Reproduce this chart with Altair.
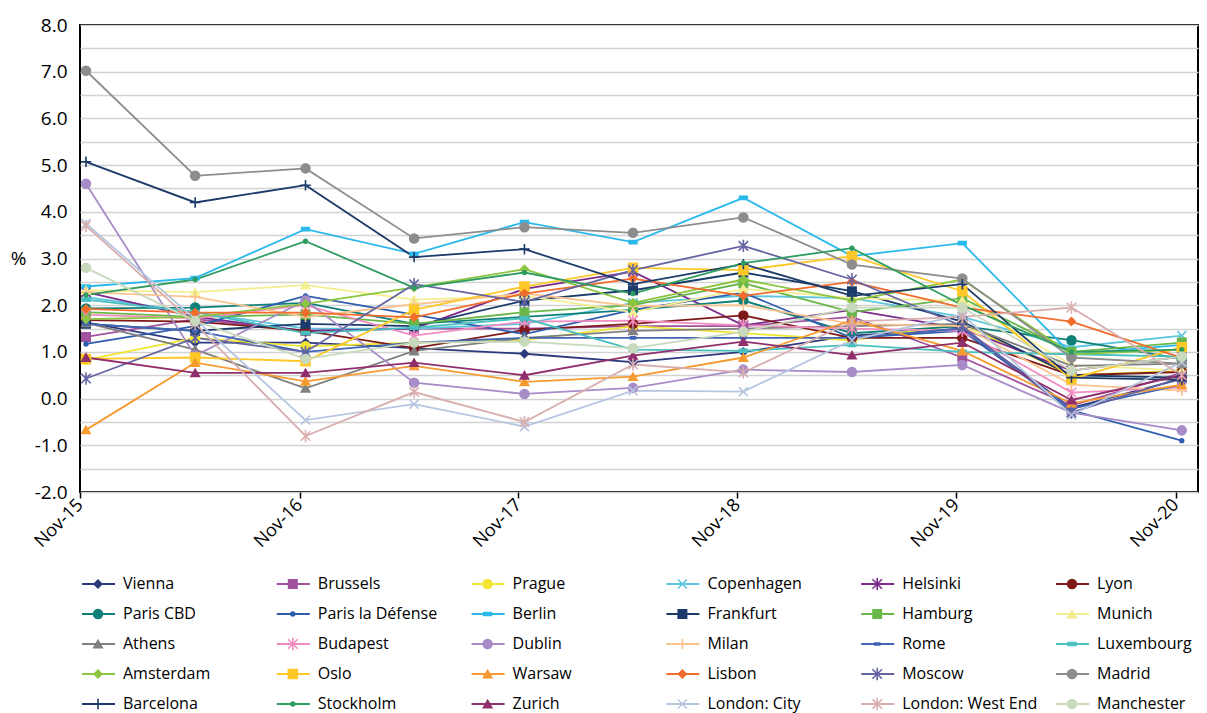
import altair as alt
import pandas as pd

# ---- periods (half-yearly) ----
periods = ["2015-11-11T00:00:00", "2016-05-11T00:00:00", "2016-11-11T00:00:00",
           "2017-05-11T00:00:00", "2017-11-11T00:00:00", "2018-05-11T00:00:00",
           "2018-11-11T00:00:00", "2019-05-11T00:00:00", "2019-11-11T00:00:00",
           "2020-05-11T00:00:00", "2020-11-11T00:00:00"]

# ---- series values (%) ----
vienna = [1.63, 1.20, 1.20, 1.08, 0.96, 0.78, 1.00, 1.35, 1.50, -0.20, 0.42]
brussels = [1.32, 1.70, 1.45, 1.50, 1.50, 1.55, 1.55, 1.75, 0.88, -0.15, 0.55]
prague = [0.83, 1.30, 1.12, 1.20, 1.25, 1.55, 1.40, 1.25, 1.60, 0.50, 0.60]
copenhagen = [2.17, 1.85, 1.50, 1.50, 1.60, 2.05, 2.20, 2.15, 1.75, 1.10, 1.35]
helsinki = [2.28, 1.75, 1.45, 1.50, 2.35, 2.72, 1.57, 1.90, 1.50, 0.60, 0.90]
lyon = [1.68, 1.65, 1.45, 1.08, 1.47, 1.60, 1.78, 1.30, 1.30, 0.50, 0.57]
paris_cbd = [1.93, 1.95, 2.05, 1.60, 1.75, 1.90, 2.10, 1.40, 1.55, 1.25, 0.85]
paris_ld = [1.17, 1.55, 2.20, 1.80, 1.38, 1.90, 2.27, 1.30, 1.45, -0.25, -0.90]
berlin = [2.40, 2.58, 3.63, 3.10, 3.78, 3.35, 4.30, 3.05, 3.33, 0.95, 1.15]
frankfurt = [1.60, 1.45, 1.60, 1.55, 2.10, 2.32, 2.70, 2.30, 1.65, 0.50, 0.45]
hamburg = [1.85, 1.75, 1.80, 1.60, 1.85, 2.00, 2.47, 1.85, 2.15, 1.00, 1.20]
munich = [2.32, 2.28, 2.43, 2.12, 2.20, 1.85, 2.35, 2.15, 2.10, 0.72, 0.60]
athens = [1.62, 1.05, 0.22, 1.02, 1.30, 1.45, 1.50, 1.55, 1.60, 0.70, 0.75]
budapest = [1.80, 1.72, 2.00, 1.35, 1.65, 1.67, 1.57, 1.50, 1.45, 0.13, 0.24]
dublin = [4.60, 0.92, 2.10, 0.34, 0.10, 0.23, 0.62, 0.57, 0.72, -0.30, -0.68]
milan = [2.28, 2.18, 1.75, 2.02, 2.25, 1.98, 2.00, 1.60, 1.55, 0.30, 0.17]
rome = [1.60, 1.45, 1.00, 1.20, 1.30, 1.30, 1.30, 1.30, 1.50, -0.22, 0.30]
luxembourg = [2.12, 1.85, 1.40, 1.52, 1.72, 1.05, 1.02, 1.15, 1.00, 0.95, 0.90]
amsterdam = [1.70, 1.75, 2.03, 2.38, 2.77, 2.05, 2.55, 2.10, 2.55, 0.95, 1.05]
oslo = [0.85, 0.88, 0.80, 1.90, 2.40, 2.80, 2.75, 3.05, 2.30, 0.42, 1.10]
warsaw = [-0.67, 0.77, 0.37, 0.70, 0.36, 0.47, 0.88, 1.68, 1.02, -0.10, 0.30]
lisbon = [1.92, 1.84, 1.84, 1.74, 2.25, 2.57, 2.20, 2.50, 1.95, 1.65, 0.87]
moscow = [0.43, 1.30, 1.00, 2.45, 2.07, 2.75, 3.27, 2.55, 1.55, -0.30, 0.45]
madrid = [7.02, 4.77, 4.93, 3.43, 3.67, 3.55, 3.88, 2.87, 2.57, 0.88, 0.75]
barcelona = [5.07, 4.20, 4.57, 3.03, 3.20, 2.45, 2.88, 2.20, 2.45, 0.45, 0.40]
stockholm = [2.22, 2.55, 3.37, 2.37, 2.70, 2.25, 2.90, 3.22, 2.00, 1.00, 1.05]
zurich = [0.88, 0.55, 0.55, 0.77, 0.50, 0.92, 1.22, 0.93, 1.20, -0.03, 0.50]
london_city = [3.75, 1.70, -0.46, -0.12, -0.60, 0.17, 0.15, 1.25, 1.80, -0.35, 0.78]
london_west_end = [3.70, 1.60, -0.80, 0.14, -0.50, 0.73, 0.56, 1.65, 1.75, 1.95, 0.50]
manchester = [2.80, 1.66, 0.85, 1.20, 1.22, 1.08, 1.43, 1.95, 1.95, 0.60, 0.90]

cities = ["Vienna", "Brussels", "Prague", "Copenhagen", "Helsinki", "Lyon",
          "Paris CBD", "Paris la Défense", "Berlin", "Frankfurt", "Hamburg", "Munich",
          "Athens", "Budapest", "Dublin", "Milan", "Rome", "Luxembourg",
          "Amsterdam", "Oslo", "Warsaw", "Lisbon", "Moscow", "Madrid",
          "Barcelona", "Stockholm", "Zurich", "London: City", "London: West End", "Manchester"]
series = [vienna, brussels, prague, copenhagen, helsinki, lyon,
          paris_cbd, paris_ld, berlin, frankfurt, hamburg, munich,
          athens, budapest, dublin, milan, rome, luxembourg,
          amsterdam, oslo, warsaw, lisbon, moscow, madrid,
          barcelona, stockholm, zurich, london_city, london_west_end, manchester]

# ---- styles ----
X = "M-1,-1L1,1M-1,1L1,-1"
AST = "M-1,-1L1,1M-1,1L1,-1M0,-1.3L0,1.3"
PLUS = "M-1.1,0L1.1,0M0,-1.1L0,1.1"
DASH = "M-1,-0.4L1,-0.4L1,0.4L-1,0.4Z"
colors = ["#2B3A7C", "#A0529E", "#F0E530", "#5DC5DD", "#7D2B8B", "#7E1A1A",
          "#0F8079", "#2F5DAE", "#2BB9EC", "#1B3C6B", "#6AB84B", "#F4EE93",
          "#808080", "#F28CC0", "#A78CC8", "#FBC48F", "#4266B3", "#4ABFBF",
          "#8CC641", "#FFC829", "#F79A30", "#F26C2C", "#6464A3", "#8D8D8D",
          "#1C3A6A", "#2F9C60", "#8F2F6C", "#B6C5E0", "#D9AEAE", "#C9D9BD"]
shapes = ["diamond", "square", "circle", X, AST, "circle",
          "circle", "circle", DASH, "square", "square", "triangle-up",
          "triangle-up", AST, "circle", PLUS, DASH, DASH,
          "diamond", "square", "triangle-up", "diamond", AST, "circle",
          PLUS, "circle", "triangle-up", X, AST, "circle"]
sizes = [60, 70, 80, 80, 90, 80,
         80, 14, 60, 70, 70, 70,
         70, 90, 80, 90, 25, 60,
         60, 80, 70, 60, 90, 80,
         90, 14, 70, 80, 90, 80]

rows = []
for name, vals, c, s, z in zip(cities, series, colors, shapes, sizes):
    for d, v in zip(periods, vals):
        rows.append({"city": name, "date": d, "value": v, "color": c, "shape": s, "size": z})
df = pd.DataFrame(rows)

leg = pd.DataFrame({
    "city": cities,
    "row": [i // 6 for i in range(len(cities))],
    "col": [i % 6 for i in range(len(cities))],
    "color": colors, "shape": shapes, "size": sizes,
})

FONT = "Open Sans"
yvals = [-2 + 0.5 * k for k in range(21)]
xticks = [alt.DateTime(year=y, month=11, date=1) for y in range(2015, 2021)]

x_enc = alt.X("date:T",
              scale=alt.Scale(domain=[alt.DateTime(year=2015, month=11, date=1),
                                      alt.DateTime(year=2020, month=12, date=8)]),
              axis=alt.Axis(values=xticks, format="%b-%y", labelAngle=315,
                            labelAlign="right", labelBaseline="middle",
                            labelFontSize=18, labelColor="black", labelPadding=4,
                            tickSize=6, tickColor="black", tickWidth=1.5,
                            grid=False, domain=False, title=None))
y_enc = alt.Y("value:Q",
              scale=alt.Scale(domain=[-2, 8], nice=False, zero=False),
              axis=alt.Axis(values=yvals, grid=True, gridColor="#D2D2D2", gridWidth=1.6,
                            ticks=False, domain=False,
                            labelExpr="datum.value % 1 == 0 ? (datum.value < 0 ? '-' : '') + abs(datum.value) + '.0' : ''",
                            labelFontSize=19, labelColor="black", labelPadding=13,
                            title="%", titleAngle=0, titleX=-62, titleY=233,
                            titleFontSize=19, titleFontWeight="normal", titleColor="black",
                            titleAlign="center", titleBaseline="middle"))

lines = alt.Chart(df).mark_line(strokeWidth=1.8).encode(
    x=x_enc, y=y_enc,
    color=alt.Color("color:N", scale=None, legend=None),
    detail="city:N",
)
points = alt.Chart(df).mark_point(filled=True, opacity=1, strokeWidth=1.6).encode(
    x=x_enc, y=y_enc,
    fill=alt.Fill("color:N", scale=None, legend=None),
    stroke=alt.Stroke("color:N", scale=None, legend=None),
    shape=alt.Shape("shape:N", scale=None, legend=None),
    size=alt.Size("size:Q", scale=None, legend=None),
)
main = alt.layer(lines, points)

lx = alt.X("col:Q", scale=alt.Scale(domain=[0, 5], range=[43, 1017], nice=False, zero=False), axis=None)
ly = alt.Y("row:Q", scale=alt.Scale(domain=[0, 4], range=[559, 679], nice=False, zero=False), axis=None)

leg_rule = alt.Chart(leg).mark_rule(strokeWidth=2, xOffset=-41, x2Offset=-8).encode(
    x=lx, x2=alt.X2("col"), y=ly,
    color=alt.Color("color:N", scale=None, legend=None),
)
leg_pts = alt.Chart(leg).mark_point(filled=True, opacity=1, strokeWidth=1.6, xOffset=-25).encode(
    x=lx, y=ly,
    fill=alt.Fill("color:N", scale=None, legend=None),
    stroke=alt.Stroke("color:N", scale=None, legend=None),
    shape=alt.Shape("shape:N", scale=None, legend=None),
    size=alt.Size("size:Q", scale=None, legend=None),
)
leg_txt = alt.Chart(leg).mark_text(align="left", baseline="middle", fontSize=16,
                                   font=FONT, color="black").encode(
    x=lx, y=ly, text="city:N")
legend = alt.layer(leg_rule, leg_pts, leg_txt)

chart = alt.layer(main, legend).resolve_scale(x="independent", y="independent").properties(
    width=1118, height=467,
    autosize=alt.AutoSizeParams(type="none"),
    padding={"left": 80, "top": 25, "right": 9, "bottom": 221},
    background="white",
).configure(font=FONT).configure_view(stroke="black", strokeWidth=2)

chart.save("out.html", embed_options={"renderer": "svg", "actions": False})
